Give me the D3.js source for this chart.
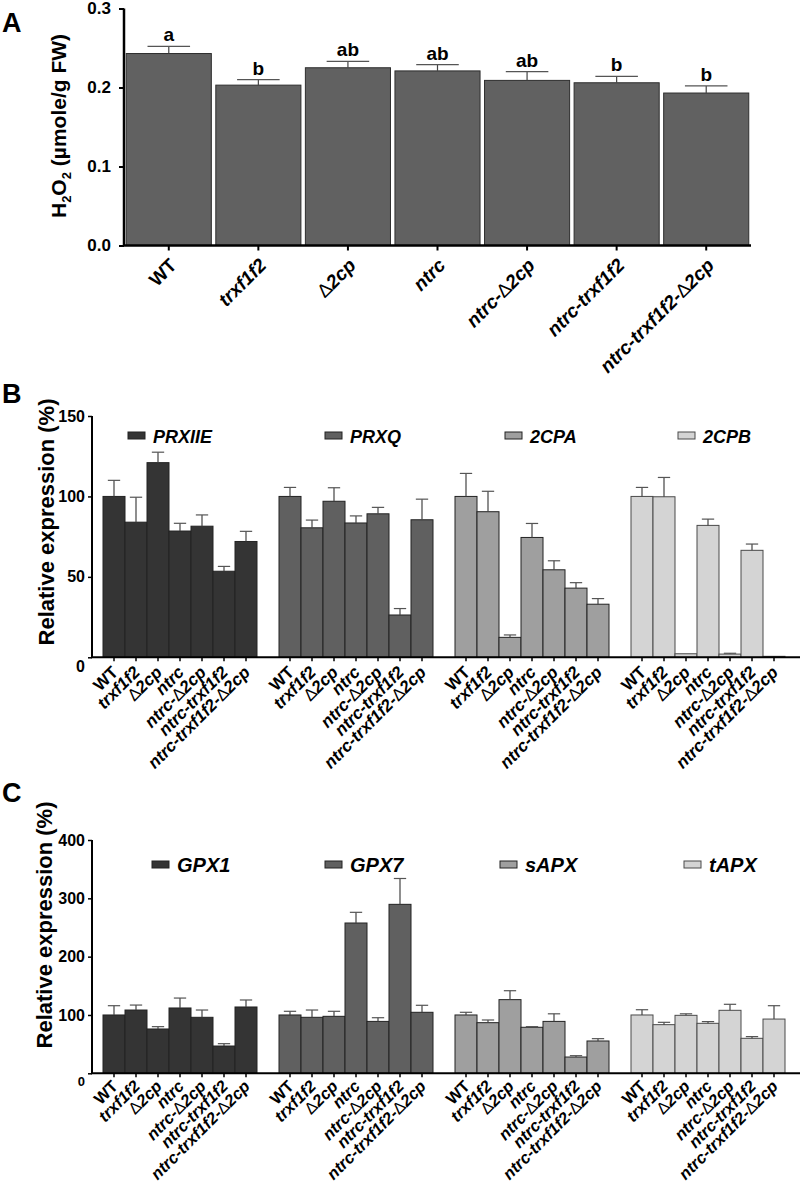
<!DOCTYPE html>
<html><head><meta charset="utf-8">
<script src="https://cdn.jsdelivr.net/npm/d3@7"></script>
<style>body{margin:0;background:#fff}svg{display:block}text{font-family:"Liberation Sans",Arial,sans-serif}</style>
</head><body><svg id="c" width="800" height="1187"></svg>
<script>
// ---------- DATA ----------
const genotypes = ["WT","trxf1f2","Δ2cp","ntrc","ntrc-Δ2cp","ntrc-trxf1f2","ntrc-trxf1f2-Δ2cp"];
// Panel A
const h2o2Mean = [0.243,0.203,0.225,0.221,0.209,0.206,0.193];
const h2o2Err  = [0.009,0.007,0.008,0.008,0.011,0.008,0.009];
const h2o2Letters = ["a","b","ab","ab","ab","b","b"];
const aTicks = [0,0.1,0.2,0.3];
// Panel B
const genesB = ["PRXIIE","PRXQ","2CPA","2CPB"];
const prxiieMean = [100,84,121,78.5,81.5,53.5,72];
const prxiieErr  = [10,15.5,6.5,4.8,7,3,6.3];
const prxqMean = [100,80.5,97,83.5,89.2,26.3,85.5];
const prxqErr  = [5.6,4.8,8.4,4.4,4,4,12.8];
const cpaMean = [100,90.5,12.4,74.5,54.4,43,33];
const cpaErr  = [14.3,12.7,1.5,8.7,5.6,3.4,3.5];
const cpbMean = [100,99.8,2.2,82,2,66.5,0.6];
const cpbErr  = [5.6,12,0,3.9,0.5,3.9,0];
const bTicks = [0,50,100,150];
// Panel C
const genesC = ["GPX1","GPX7","sAPX","tAPX"];
const gpx1Mean = [100,108.5,76,112,96,46.8,113.7];
const gpx1Err  = [15.9,8.5,4,17,12.5,4,12];
const gpx7Mean = [100,96,97.7,257.7,89,289.7,104.6];
const gpx7Err  = [6.3,12.5,8.6,18.3,6.3,44.3,12];
const sapxMean = [100,86.8,126.3,78.9,89,27.9,55.4];
const sapxErr  = [4.6,4.6,15.3,1.1,13,2.3,4];
const tapxMean = [100,83.4,99.4,85.7,108,60,93];
const tapxErr  = [9,4,2.6,2.9,10.3,2.9,22.9];
const cTicks = [0,100,200,300,400];
const groupFills = ["#343434","#606060","#9f9f9f","#d4d4d4"];

// ---------- DRAW ----------
const svg = d3.select("#c");
const FONT = '"Liberation Sans",Arial,sans-serif';

function labelText(sel, name, size, italic){
  const parts = name.split("Δ");
  parts.forEach((p,i)=>{
    if(i>0) sel.append("tspan").attr("font-weight","normal").attr("font-style","normal").text("Δ");
    if(p) sel.append("tspan").text(p);
  });
  sel.attr("font-size",size).attr("font-weight","bold").attr("font-style", italic?"italic":"normal");
}

function panelLetter(t,x,y){
  svg.append("text").attr("x",x).attr("y",y).attr("font-size",27).attr("font-weight","bold").text(t);
}

// ===== Panel A =====
{
  const x = d3.scaleBand().domain(genotypes).range([124,751]).paddingInner(0.05).paddingOuter(0.025);
  const y = d3.scaleLinear().domain([0,0.3]).range([245.5,8.5]);
  const g = svg.append("g");
  const data = genotypes.map((k,i)=>({k,m:h2o2Mean[i],e:h2o2Err[i],l:h2o2Letters[i]}));
  g.selectAll("rect").data(data).join("rect")
    .attr("x",d=>x(d.k)).attr("width",x.bandwidth())
    .attr("y",d=>y(d.m)).attr("height",d=>y(0)-y(d.m))
    .attr("fill","#616161").attr("stroke","#2e2e2e").attr("stroke-width",1);
  const eb = g.selectAll("g.eb").data(data).join("g");
  eb.append("line").attr("x1",d=>x(d.k)+x.bandwidth()/2).attr("x2",d=>x(d.k)+x.bandwidth()/2)
    .attr("y1",d=>y(d.m)).attr("y2",d=>y(d.m+d.e)).attr("stroke","#444").attr("stroke-width",1.2);
  eb.append("line").attr("x1",d=>x(d.k)+x.bandwidth()/4).attr("x2",d=>x(d.k)+x.bandwidth()*3/4)
    .attr("y1",d=>y(d.m+d.e)).attr("y2",d=>y(d.m+d.e)).attr("stroke","#555").attr("stroke-width",1.2);
  eb.append("text").attr("x",d=>x(d.k)+x.bandwidth()/2).attr("y",d=>y(d.m+d.e)-5)
    .attr("text-anchor","middle").attr("font-size",19).attr("font-weight","bold").text(d=>d.l);
  const ya = g.append("g").attr("transform","translate(124,0)")
    .call(d3.axisLeft(y).tickValues(aTicks).tickFormat(d3.format(".1f")).tickSize(5).tickPadding(8));
  ya.select(".domain").attr("stroke-width",2.5).attr("d","M0,245.5V8.5");
  ya.selectAll(".tick line").attr("stroke-width",2);
  ya.selectAll("text").attr("font-size",17).attr("font-weight","bold").attr("font-family",FONT);
  const xa = g.append("g").attr("transform","translate(0,245.5)")
    .call(d3.axisBottom(x).tickSize(5).tickFormat(""));
  xa.select(".domain").attr("stroke-width",2.5).attr("d","M124,0H751");
  xa.selectAll(".tick line").attr("stroke-width",2);
  genotypes.forEach((k,i)=>{
    const t = g.append("text").attr("text-anchor","end")
      .attr("transform",`translate(${x(k)+x.bandwidth()/2+9},${245.5+21}) rotate(-45)`);
    labelText(t,k,19,i>0);
  });
  const yt = g.append("text").attr("transform","translate(66,126) rotate(-90)")
    .attr("text-anchor","middle").attr("font-size",21).attr("font-weight","bold");
  yt.append("tspan").text("H");
  yt.append("tspan").attr("font-size",13).attr("dy",5).text("2");
  yt.append("tspan").attr("dy",-5).text("O");
  yt.append("tspan").attr("font-size",13).attr("dy",5).text("2");
  yt.append("tspan").attr("dy",-5).text(" (µmole/g FW)");
  panelLetter("A",2,32);
}

// ===== grouped panels =====
function groupedPanel(opt){
  const {genes, means, errs, ticks, yDomain, y0, y1, legX, legY, legSize, labelY, labelSize, titleX, titleY, zeroSize} = opt;
  const xo = d3.scaleBand().domain(genes).range([103,785]).paddingInner(0.125).paddingOuter(0);
  const xi = d3.scaleBand().domain(genotypes).range([0,xo.bandwidth()]);
  const y = d3.scaleLinear().domain(yDomain).range([y0,y1]);
  const g = svg.append("g");
  genes.forEach((gene,gi)=>{
    const data = genotypes.map((k,i)=>({k,m:means[gi][i],e:errs[gi][i]}));
    const gg = g.append("g").attr("transform",`translate(${xo(gene)},0)`);
    const stroke = gi===3 ? "#4a4a4a" : "#222";
    gg.selectAll("rect").data(data).join("rect")
      .attr("x",d=>xi(d.k)).attr("width",xi.bandwidth())
      .attr("y",d=>y(d.m)).attr("height",d=>y(0)-y(d.m))
      .attr("fill",groupFills[gi]).attr("stroke",stroke).attr("stroke-width",1);
    const eb = gg.selectAll("g.eb").data(data.filter(d=>d.e>0)).join("g");
    eb.append("line").attr("x1",d=>xi(d.k)+xi.bandwidth()/2).attr("x2",d=>xi(d.k)+xi.bandwidth()/2)
      .attr("y1",d=>y(d.m)).attr("y2",d=>y(d.m+d.e)).attr("stroke","#444").attr("stroke-width",1.2);
    eb.append("line").attr("x1",d=>xi(d.k)+xi.bandwidth()*0.22).attr("x2",d=>xi(d.k)+xi.bandwidth()*0.78)
      .attr("y1",d=>y(d.m+d.e)).attr("y2",d=>y(d.m+d.e)).attr("stroke","#555").attr("stroke-width",1.2);
    genotypes.forEach((k,i)=>{
      const cx = xo(gene)+xi(k)+xi.bandwidth()/2;
      g.append("line").attr("x1",cx).attr("x2",cx).attr("y1",y0).attr("y2",y0+4).attr("stroke","#000").attr("stroke-width",1.5);
      const t = g.append("text").attr("text-anchor","end")
        .attr("transform",`translate(${cx+5},${y0+labelY}) rotate(-45)`);
      labelText(t,k,labelSize,i>0);
    });
    g.append("rect").attr("x",legX[gi]).attr("y",legY-7).attr("width",17).attr("height",7)
      .attr("fill",groupFills[gi]).attr("stroke",stroke).attr("stroke-width",1);
    g.append("text").attr("x",legX[gi]+25).attr("y",legY+4).attr("font-size",legSize)
      .attr("font-weight","bold").attr("font-style","italic").text(gene);
  });
  const ya = g.append("g").attr("transform","translate(92,0)")
    .call(d3.axisLeft(y).tickValues(ticks).tickSize(4).tickPadding(3));
  ya.select(".domain").attr("stroke-width",2).attr("d",`M0,${y0}V${y1}`);
  ya.selectAll(".tick line").attr("stroke-width",1.5);
  ya.selectAll("text").attr("font-size",d=>d===0?zeroSize:16).attr("font-weight","bold").attr("font-family",FONT)
    .attr("dy",d=>d===0?"0.9em":"0.32em");
  g.append("line").attr("x1",91).attr("x2",800).attr("y1",y0).attr("y2",y0).attr("stroke","#000").attr("stroke-width",2);
  g.append("text").attr("transform",`translate(${titleX},${titleY}) rotate(-90)`).attr("text-anchor","middle")
    .attr("font-size",22).attr("font-weight","bold").text("Relative expression (%)");
}

groupedPanel({genes:genesB, means:[prxiieMean,prxqMean,cpaMean,cpbMean], errs:[prxiieErr,prxqErr,cpaErr,cpbErr],
  ticks:bTicks, yDomain:[0,150], y0:657.3, y1:416, legX:[128,325,505,678], legY:439, legSize:18,
  labelY:16, labelSize:17, titleX:54, titleY:522, zeroSize:16});
panelLetter("B",2,403);

groupedPanel({genes:genesC, means:[gpx1Mean,gpx7Mean,sapxMean,tapxMean], errs:[gpx1Err,gpx7Err,sapxErr,tapxErr],
  ticks:cTicks, yDomain:[0,400], y0:1073.3, y1:840, legX:[152,325,500,684], legY:868, legSize:20,
  labelY:14, labelSize:16.5, titleX:52, titleY:925, zeroSize:13});
panelLetter("C",2,802);
</script></body></html>
